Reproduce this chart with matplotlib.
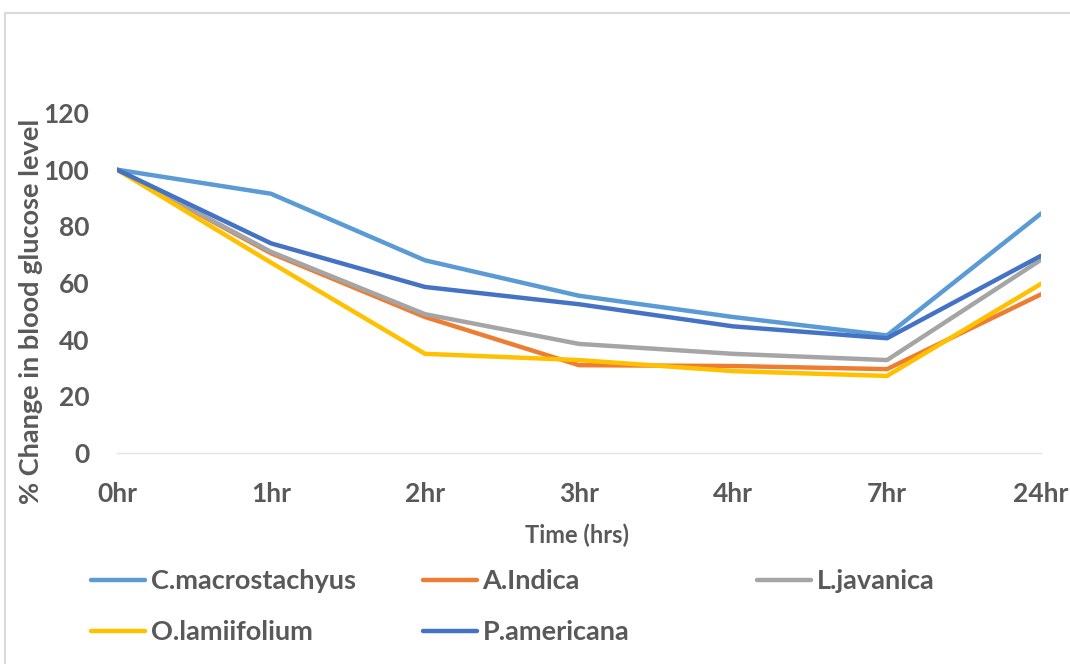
import matplotlib.pyplot as plt
from matplotlib.patches import Rectangle

plt.rcParams['font.family'] = ['Lato', 'DejaVu Sans']
plt.rcParams['font.weight'] = 'bold'

# data
times = ["0hr", "1hr", "2hr", "3hr", "4hr", "7hr", "24hr"]
c_macrostachyus = [100, 91.5, 68, 55.5, 48, 41.5, 84.5]
a_indica = [100, 70.5, 48, 31, 30.7, 29.6, 56]
l_javanica = [100, 71, 49, 38.5, 35, 32.8, 68.2]
o_lamiifolium = [100, 67.2, 35, 32.8, 28.9, 27.2, 59.7]
p_americana = [100, 74, 58.6, 52.5, 44.7, 40.5, 69.6]

names = ["C.macrostachyus", "A.Indica", "L.javanica", "O.lamiifolium", "P.americana"]
series = [c_macrostachyus, a_indica, l_javanica, o_lamiifolium, p_americana]
colors = ["#5B9BD5", "#ED7D31", "#A5A5A5", "#FFC000", "#4472C4"]

txt = "#595959"
W, H = 1070, 664

fig = plt.figure(figsize=(W / 100, H / 100), dpi=100)
ax = fig.add_axes([117 / W, (H - 453) / H, (1041 - 117) / W, (453 - 113) / H])

x = range(len(times))
handles = []
for name, vals, col in zip(names, series, colors):
    h, = ax.plot(x, vals, color=col, lw=3.2, label=name, solid_capstyle='round')
    handles.append(h)

ax.set_xlim(0, len(times) - 1)
ax.set_ylim(0, 120)
ax.set_yticks(range(0, 121, 20))
ax.set_xticks(list(x))
ax.set_xticklabels(times)
ax.tick_params(axis='both', length=0, labelsize=19, colors=txt)
ax.tick_params(axis='y', pad=20)
ax.tick_params(axis='x', pad=21)
for s in ["top", "right", "left"]:
    ax.spines[s].set_visible(False)
ax.spines["bottom"].set_color("#E4E4E4")
ax.spines["bottom"].set_linewidth(1)

fig.text(31 / W, 1 - 311 / H, "% Change in blood glucose level", rotation=90,
         ha='center', va='center', fontsize=19.5, color=txt)
fig.text(577 / W, 1 - 535 / H, "Time (hrs)", ha='center', va='center',
         fontsize=17, color=txt)

# legend laid out in three fixed columns like the original
cols = [([handles[0], handles[3]], 91), ([handles[1], handles[4]], 423), ([handles[2]], 757)]
for hs, xpos in cols:
    leg = fig.legend(handles=hs, loc='upper left', bbox_to_anchor=(xpos / W, 1 - 569 / H),
                     frameon=False, fontsize=19.5, handlelength=2.0, handletextpad=0.2,
                     labelspacing=1.0, borderpad=0, borderaxespad=0)
    for t in leg.get_texts():
        t.set_color(txt)

# chart border
fig.patches.append(Rectangle((5 / W, -0.05), 1.1, (H - 13) / H + 0.05, transform=fig.transFigure,
                             fill=False, edgecolor="#D9D9D9", lw=1.5))

fig.savefig("out.png", dpi=100)
